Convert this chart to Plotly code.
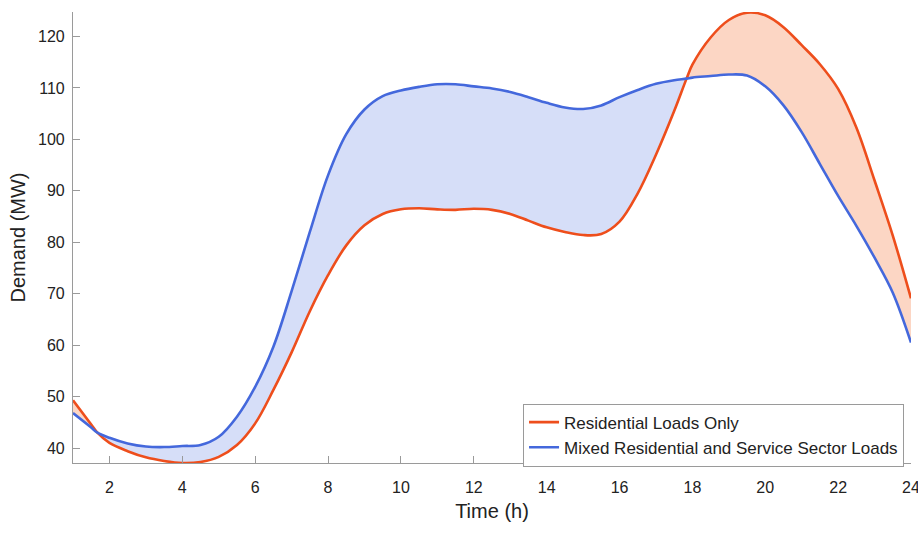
import numpy as np
import plotly.graph_objects as go

hours = [1.0, 1.5, 1.67, 2.0, 2.5, 3.0, 3.5, 4.0, 4.5, 5.0, 5.5, 6.0, 6.5, 7.0, 7.5, 8.0,
         8.5, 9.0, 9.5, 10.0, 10.5, 11.0, 11.5, 12.0, 12.5, 13.0, 13.5, 14.0, 14.5, 15.0,
         15.5, 16.0, 16.5, 17.0, 17.5, 17.84, 18.0, 18.5, 19.0, 19.5, 20.0, 20.5, 21.0,
         21.5, 22.0, 22.5, 23.0, 23.5, 24.0]

residential = [49.3, 44.6, 43.0, 41.0, 39.4, 38.2, 37.5, 37.1, 37.3, 38.3, 40.6, 44.8, 51.3,
               58.6, 66.6, 73.6, 79.4, 83.3, 85.5, 86.4, 86.6, 86.4, 86.3, 86.5, 86.3, 85.5,
               84.2, 82.9, 82.0, 81.4, 81.6, 84.0, 89.5, 97.0, 105.5, 111.8, 114.5, 119.8,
               123.2, 124.6, 124.1, 121.8, 118.3, 114.6, 109.8, 102.3, 92.0, 81.3, 69.1]

mixed = [46.8, 44.0, 43.0, 42.0, 40.9, 40.3, 40.2, 40.4, 40.6, 42.2, 46.1, 51.9, 59.7, 70.5,
         82.0, 93.0, 101.0, 105.8, 108.4, 109.5, 110.2, 110.7, 110.7, 110.3, 109.9, 109.2,
         108.2, 107.1, 106.2, 105.9, 106.6, 108.2, 109.6, 110.8, 111.5, 111.8, 112.0, 112.3,
         112.6, 112.4, 110.3, 106.6, 101.4, 95.2, 89.0, 83.2, 77.0, 70.2, 60.5]

x_ticks = [2, 4, 6, 8, 10, 12, 14, 16, 18, 20, 22, 24]
y_ticks = [40, 50, 60, 70, 80, 90, 100, 110, 120]

RED = "#EE4E1C"
BLUE = "#4468DC"
RED_FILL = "rgba(252,214,196,1)"
BLUE_FILL = "rgba(214,222,248,1)"

fig = go.Figure()

# fills between the two curves, split where they cross
x = np.array(hours)
r = np.array(residential)
m = np.array(mixed)
cross = [0] + [i for i in range(1, len(x) - 1) if abs(r[i] - m[i]) < 1e-9] + [len(x) - 1]
for a, b in zip(cross[:-1], cross[1:]):
    seg = slice(a, b + 1)
    mid = (a + b) // 2
    color = RED_FILL if r[mid] > m[mid] else BLUE_FILL
    fig.add_trace(go.Scatter(x=x[seg], y=r[seg], mode="lines",
                             line=dict(width=0, shape="spline"), showlegend=False,
                             hoverinfo="skip"))
    fig.add_trace(go.Scatter(x=x[seg], y=m[seg], mode="lines", fill="tonexty",
                             fillcolor=color, line=dict(width=0, shape="spline"),
                             showlegend=False, hoverinfo="skip"))

fig.add_trace(go.Scatter(x=hours, y=residential, mode="lines",
                         name="Residential Loads Only",
                         line=dict(color=RED, width=2.6, shape="spline")))
fig.add_trace(go.Scatter(x=hours, y=mixed, mode="lines",
                         name="Mixed Residential and Service Sector Loads",
                         line=dict(color=BLUE, width=2.6, shape="spline")))

axis_common = dict(showgrid=False, zeroline=False, showline=True, linecolor="#9a9a9a",
                   linewidth=1.2, ticks="inside", ticklen=7, tickcolor="#9a9a9a",
                   tickwidth=1.2, mirror=False, ticklabeloverflow="allow",
                   automargin=False,
                   tickfont=dict(family="Liberation Sans, Arial, sans-serif", size=16,
                                 color="#222222"))

fig.update_layout(
    width=918, height=533,
    margin=dict(l=73, r=7, t=12, b=70),
    paper_bgcolor="white", plot_bgcolor="white",
    font=dict(family="Liberation Sans, Arial, sans-serif", color="#222222"),
    xaxis=dict(range=[1, 24], tickvals=x_ticks, ticklabelstandoff=10,
               title=dict(text="Time (h)", font=dict(size=20), standoff=8),
               **axis_common),
    yaxis=dict(range=[37.1, 124.75], tickvals=y_ticks, ticklabelstandoff=4,
               title=dict(text="Demand (MW)", font=dict(size=20), standoff=6),
               **axis_common),
    legend=dict(x=0.9917, y=-0.008, xanchor="right", yanchor="bottom",
                bgcolor="white", bordercolor="#9a9a9a", borderwidth=1,
                font=dict(size=17, color="#222222"), tracegroupgap=0,
                traceorder="normal", itemwidth=30),
    showlegend=True,
)

fig.write_html("out.html")
